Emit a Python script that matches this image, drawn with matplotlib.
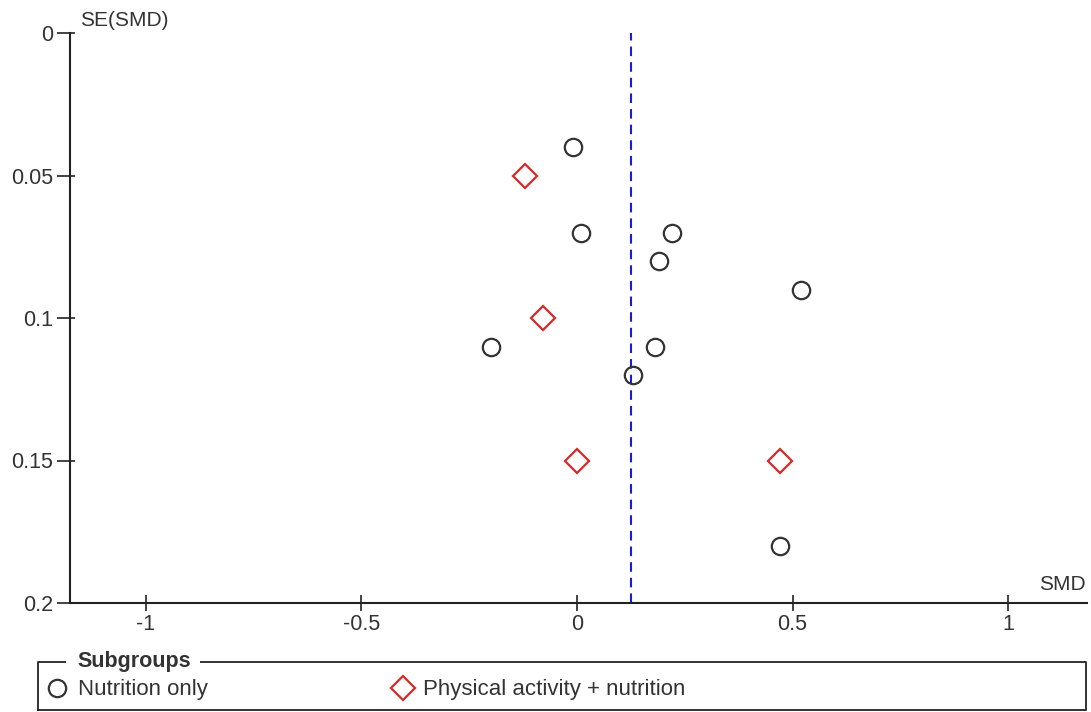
import matplotlib
matplotlib.use("Agg")
import matplotlib.pyplot as plt
from matplotlib.patches import Rectangle

plt.rcParams['font.family'] = ['Liberation Sans', 'DejaVu Sans']

# Data
nutrition_smd = [-0.01, 0.01, 0.22, 0.19, 0.52, -0.20, 0.18, 0.13, 0.47]
nutrition_se = [0.04, 0.07, 0.07, 0.08, 0.09, 0.11, 0.11, 0.12, 0.18]
pa_smd = [-0.12, -0.08, 0.00, 0.47]
pa_se = [0.05, 0.10, 0.15, 0.15]
pooled_smd = 0.125
xticks = [-1, -0.5, 0, 0.5, 1]
xticklabels = ['-1', '-0.5', '0', '0.5', '1']
yticks = [0, 0.05, 0.1, 0.15, 0.2]
yticklabels = ['0', '0.05', '0.1', '0.15', '0.2']

TXT = '#333333'
W, H = 1091, 712
PX = 72 / 100  # points per pixel
fig = plt.figure(figsize=(W / 100, H / 100), dpi=100)
ax = fig.add_axes([70 / W, (H - 603) / H, (1087 - 70) / W, 570 / H])

ax.set_xlim(-1.176, 1.183)
ax.set_ylim(0.2, 0)

ax.axvline(pooled_smd, color='#1c1cd0', lw=1.5, ls=(0, (4.6, 2.9)), zorder=1)

ax.plot(nutrition_smd, nutrition_se, ls='none', marker='o', ms=12.5,
        mfc='none', mec='#333333', mew=1.6, zorder=3, clip_on=False)
ax.plot(pa_smd, pa_se, ls='none', marker='D', ms=12.5,
        mfc='none', mec='#d42a2a', mew=1.6, zorder=3, clip_on=False)

for s in ['top', 'right']:
    ax.spines[s].set_visible(False)
for s in ['left', 'bottom']:
    ax.spines[s].set_color('#222222')
    ax.spines[s].set_linewidth(1.5)

ax.set_xticks(xticks)
ax.set_xticklabels(xticklabels)
ax.set_yticks(yticks)
ax.set_yticklabels(yticklabels)
ax.set_xticks(xticks, minor=True)
ax.set_yticks(yticks, minor=True)
ax.xaxis.remove_overlapping_locs = False
ax.yaxis.remove_overlapping_locs = False

ax.tick_params(axis='x', which='major', direction='out', length=8 * PX,
               width=1.2, color='#222222', labelsize=15.5, labelcolor=TXT,
               pad=2.5)
ax.tick_params(axis='x', which='minor', direction='in', length=8 * PX,
               width=1.2, color='#222222')
ax.tick_params(axis='y', which='major', direction='out', length=13 * PX,
               width=1.2, color='#222222', labelsize=15.5, labelcolor=TXT,
               pad=3)
ax.tick_params(axis='y', which='minor', direction='in', length=5 * PX,
               width=1.2, color='#222222')

fig.text(80 / W, 1 - 20 / H, 'SE(SMD)', fontsize=15, color=TXT,
         ha='left', va='center')
fig.text(1086 / W, 1 - 585 / H, 'SMD', fontsize=15, color=TXT,
         ha='right', va='center')

# Legend
lax = fig.add_axes([0, 0, 1, 1], facecolor='none')
lax.set_xlim(0, W)
lax.set_ylim(H, 0)
lax.axis('off')
lax.plot([38, 38, 1086, 1086, 38], [710, 662, 662, 710, 710], color='#222222',
         lw=1.3, clip_on=False)
lax.add_patch(Rectangle((66, 650), 134, 24, facecolor='white',
                        edgecolor='none', zorder=2))
lax.text(77, 662, 'Subgroups', fontsize=15.5, fontweight='bold',
         color=TXT, ha='left', va='center', zorder=3)
lax.plot([57], [688], ls='none', marker='o', ms=12.5, mfc='none',
         mec='#333333', mew=1.6)
lax.text(78, 689, 'Nutrition only', fontsize=16, color=TXT,
         ha='left', va='center')
lax.plot([403], [688], ls='none', marker='D', ms=12.5, mfc='none',
         mec='#d42a2a', mew=1.6)
lax.text(423, 689, 'Physical activity + nutrition', fontsize=16,
         color=TXT, ha='left', va='center')

fig.savefig('out.png', dpi=100)
